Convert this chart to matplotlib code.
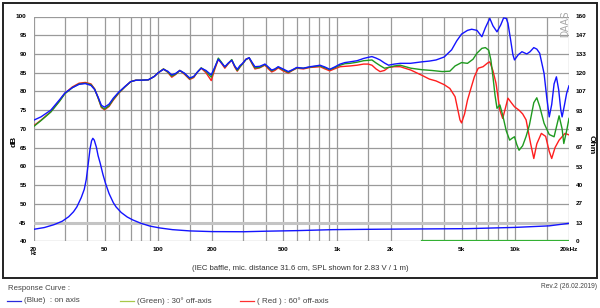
import numpy as np
import matplotlib
matplotlib.use("Agg")
import matplotlib.pyplot as plt
from matplotlib.lines import Line2D
from matplotlib.patches import Rectangle

plt.rcParams['font.family'] = ['Liberation Sans', 'DejaVu Sans']

# =========================
# data
# =========================
freq_lo = [20, 22, 25, 28, 30, 33, 36, 39, 42, 44, 46, 48, 50, 53, 56, 60, 65, 70, 75, 80, 88, 95,
           100, 107, 113, 119, 125, 132, 140, 150, 158, 166, 174, 185, 198, 207, 217, 226, 236, 247,
           258, 268, 277, 287, 297, 310, 323, 335, 348, 370, 396, 414, 432, 450, 470, 500, 535, 565,
           597, 650, 708, 760, 806, 860, 914, 980, 1044, 1110, 1187, 1300, 1413, 1500, 1574, 1660,
           1748, 1850, 1950, 2100, 2268]

blue_lo = [72.3, 73.2, 75.0, 77.8, 79.6, 81.0, 81.9, 82.1, 81.6, 80.5, 78.5, 76.3, 75.8, 76.6, 78.2,
           79.8, 81.3, 82.6, 83.0, 83.0, 83.1, 84.0, 85.0, 85.9, 85.4, 84.4, 84.8, 85.6, 84.9, 83.6,
           84.0, 85.2, 86.2, 85.6, 84.4, 86.4, 88.6, 87.6, 86.6, 87.6, 88.3, 86.8, 85.9, 86.9, 87.5,
           88.6, 89.0, 87.8, 86.6, 86.7, 87.3, 86.5, 85.7, 86.0, 86.6, 86.0, 85.3, 85.8, 86.4, 86.2,
           86.6, 86.8, 87.0, 86.5, 85.9, 86.6, 87.3, 87.7, 87.9, 88.2, 88.8, 89.1, 89.3, 88.9, 88.4,
           87.6, 87.0, 87.3, 87.5]

green_lo = [70.6, 72.2, 74.5, 77.4, 79.4, 81.0, 82.0, 82.2, 81.8, 80.6, 78.3, 75.9, 75.3, 76.2, 77.9,
            79.6, 81.2, 82.6, 83.0, 83.0, 83.1, 84.0, 85.0, 86.0, 85.2, 84.1, 84.6, 85.6, 84.8, 83.4,
            83.9, 85.2, 86.3, 85.4, 83.8, 86.2, 88.9, 87.8, 86.5, 87.5, 88.5, 86.8, 85.6, 86.6, 87.4,
            88.5, 89.0, 87.6, 86.3, 86.4, 87.2, 86.3, 85.5, 85.9, 86.5, 85.8, 85.1, 85.7, 86.3, 86.2,
            86.5, 86.7, 86.8, 86.3, 85.8, 86.4, 87.0, 87.4, 87.5, 87.8, 88.2, 88.3, 88.4, 87.6, 86.9,
            86.2, 86.4, 86.8, 87.0]

red_lo = [70.8, 72.3, 74.6, 77.5, 79.5, 81.2, 82.2, 82.4, 82.0, 80.7, 78.3, 75.7, 75.1, 76.0, 77.7,
          79.5, 81.2, 82.6, 83.0, 83.0, 83.1, 84.0, 85.0, 86.0, 85.1, 83.8, 84.5, 85.6, 84.6, 83.2,
          83.7, 85.2, 86.2, 85.0, 82.9, 85.8, 88.6, 87.5, 86.2, 87.4, 88.4, 86.5, 85.4, 86.5, 87.4,
          88.6, 88.9, 87.4, 86.0, 86.3, 87.0, 86.0, 85.2, 85.6, 86.3, 85.5, 84.9, 85.6, 86.2, 86.0,
          86.4, 86.5, 86.6, 86.0, 85.5, 86.1, 86.6, 86.7, 86.8, 87.0, 87.3, 87.3, 87.0, 86.0, 85.3,
          85.6, 86.4, 86.6, 86.6]

# high frequency part, each curve on its own points
blue_hf_f = [2585, 3000, 3300, 3600, 4000, 4400, 4700, 5000, 5400, 5700, 6100, 6500, 6800, 7200, 7500,
             7900, 8300, 8600, 8900, 9100, 9400, 9700, 9900, 10400, 10900, 11600, 12100, 12700, 13200,
             13700, 14500, 15000, 15500, 16000, 16500, 17000, 17500, 18000, 18300, 18800, 19400, 20000]
blue_hf = [87.5, 87.9, 88.1, 88.4, 89.2, 91.1, 93.5, 95.3, 96.3, 96.6, 96.3, 94.6, 97.0, 99.5, 97.5,
           95.9, 97.8, 99.6, 99.5, 98.2, 94.0, 89.8, 88.4, 89.8, 90.6, 90.0, 90.6, 91.7, 91.3,
           90.2, 84.8, 78.5, 73.2, 76.5, 82.0, 83.9, 80.5, 75.0, 73.2, 76.0, 79.5, 81.5]

green_hf_f = [2600, 3000, 3400, 3900, 4300, 4600, 5000, 5400, 5800, 6100, 6500, 6800, 7100, 7300, 7500,
              7700, 7900, 8200, 8500, 8900, 9300, 9600, 9900, 10200, 10500, 11000, 11500, 12000, 12700,
              13200, 13700, 14500, 15500, 16500, 17600, 18300, 18700, 19400, 20000]
green_hf = [86.2, 85.8, 85.6, 85.3, 85.4, 86.8, 87.7, 87.5, 88.6, 90.2, 91.5, 91.7, 91.0, 88.4, 83.9,
            79.0, 75.5, 76.4, 73.7, 69.5, 67.0, 67.5, 67.9, 65.8, 64.3, 65.5, 68.0, 71.0, 77.0,
            78.3, 76.0, 71.5, 68.5, 67.9, 73.5, 70.0, 66.1, 69.5, 72.8]

red_hf_f = [2600, 3000, 3300, 3600, 4000, 4300, 4600, 4900, 5000, 5200, 5400, 5700, 5900, 6200, 6600,
            7000, 7200, 7500, 7800, 8200, 8500, 8800, 9100, 9500, 9900, 10500, 11000, 11500, 12200,
            12700, 13200, 14000, 14800, 15500, 16000, 16700, 17600, 19000, 20000]
red_hf = [85.7, 84.3, 83.3, 82.8, 81.8, 80.8, 78.6, 72.4, 71.6, 74.0, 77.7, 81.5, 83.9, 86.2, 86.6,
          87.6, 87.9, 85.5, 82.2, 75.0, 72.8, 75.5, 78.2, 77.0, 75.9, 75.0, 74.0, 72.4, 66.0,
          62.1, 66.0, 68.8, 68.0, 64.0, 62.1, 65.0, 67.0, 68.8, 68.4]

# impedance, blue (Ohm)
imp_f = [20, 23, 26, 29, 31.5, 33.5, 35, 37, 38.5, 39.5, 40.5, 41.5, 42.3, 43, 43.8, 45, 46, 47.3, 49,
         50.6, 53, 56, 58, 62, 67, 72, 80, 90, 102, 120, 150, 200, 300, 405, 600, 950, 1750, 2270,
         5400, 10000, 15500, 20000]
imp_ohm = [8.5, 9.8, 11.8, 14.3, 17.5, 21, 24.5, 31, 37, 44, 55, 66, 71.5, 73.3, 72, 67, 61, 55.5, 47.5,
           41.4, 34, 27.5, 24.5, 20.5, 17.3, 15.2, 12.8, 10.8, 9.5, 8.3, 7.4, 6.9, 6.8, 7.2, 7.6, 8.3,
           8.6, 8.7, 9.0, 9.9, 11.0, 12.8]

# green impedance trace sitting on 0 Ohm at the top end
imp_green_f = [3000, 20000]
imp_green = [0, 0]

grid_f = [20, 30, 40, 50, 60, 70, 80, 90, 100, 150, 200, 300, 400, 500, 600, 700, 800, 900, 1000,
          1500, 2000, 3000, 4000, 5000, 6000, 7000, 8000, 9000, 10000, 15000, 20000]
xtick_f = [20, 50, 100, 200, 500, 1000, 2000, 5000, 10000, 20000]
xtick_lab = ['20', '50', '100', '200', '500', '1k', '2k', '5k', '10k', '20kHz']
db_ticks = [40, 45, 50, 55, 60, 65, 70, 75, 80, 85, 90, 95, 100]
ohm_ticks = [0, 13, 27, 40, 53, 67, 80, 93, 107, 120, 133, 147, 160]

BLUE = '#1414ff'
GREEN = '#1f9a1f'
RED = '#ff1e1e'
GRID = '#9a9a9a'

# =========================
# figure
# =========================
fig = plt.figure(figsize=(6.0, 3.08), dpi=100)
fig.patch.set_facecolor('white')

ax = fig.add_axes([33.5 / 600, 1 - 241.3 / 308, (569 - 33.5) / 600, (241.3 - 16.5) / 308])
ax.set_xscale('log')
ax.set_xlim(20, 20000)
ax.set_ylim(40, 100)

for f in grid_f:
    ax.axvline(f, color=GRID, lw=0.9, zorder=1)
for d in db_ticks:
    if d == 45:
        ax.axhline(d, color='#c4c4c4', lw=2.2, zorder=1)
    else:
        ax.axhline(d, color=GRID, lw=0.9, zorder=1)

ax2 = ax.twinx()
ax2.set_ylim(0, 160)
ax2.plot(imp_green_f, imp_green, color='#33b033', lw=1.6, zorder=3)
ax2.plot(imp_f, imp_ohm, color=BLUE, lw=1.0, zorder=5)

ax.plot(freq_lo + red_hf_f, red_lo + red_hf, color=RED, lw=1.0, zorder=3)
ax.plot(freq_lo + green_hf_f, green_lo + green_hf, color=GREEN, lw=1.0, zorder=4)
ax.plot(freq_lo + blue_hf_f, blue_lo + blue_hf, color=BLUE, lw=1.0, zorder=5)

for a in (ax, ax2):
    for s in a.spines.values():
        s.set_visible(False)
    a.tick_params(length=0)

ax.set_xticks(xtick_f)
ax.set_xticklabels(xtick_lab)
ax.xaxis.set_minor_locator(matplotlib.ticker.NullLocator())
ax.set_yticks(db_ticks)
ax.set_yticklabels([str(d) for d in db_ticks])
ax2.set_yticks(ohm_ticks)
ax2.set_yticklabels([str(o) for o in ohm_ticks])
ax.tick_params(axis='x', pad=4, labelsize=4.6)
ax.tick_params(axis='y', pad=5, labelsize=4.6)
ax2.tick_params(axis='y', pad=5, labelsize=4.6)
for lab in ax.get_xticklabels() + ax.get_yticklabels() + ax2.get_yticklabels():
    lab.set_fontweight('bold')
ax.text(20, 37.3, 'Hz', fontsize=3.6, fontweight='bold', ha='center', va='top')

fig.text(14 / 600, 1 - 141 / 308, 'dB', rotation=90, fontsize=6, fontweight='bold',
         ha='center', va='center')
fig.text(591 / 600, 1 - 145 / 308, 'Ohm', rotation=270, fontsize=6, fontweight='bold',
         ha='center', va='center')
fig.text(565 / 600, 1 - 24 / 308, 'DAAS', rotation=90, fontsize=7, color='#a8a8a8',
         ha='center', va='center')

# outer frame
fig.patches.append(Rectangle((3 / 600, 1 - 278 / 308), 594 / 600, 275 / 308,
                             transform=fig.transFigure, fill=False, ec='#222222', lw=1.4))

fig.text(300 / 600, 1 - 268 / 308, '(IEC baffle, mic. distance 31.6 cm, SPL shown for 2.83 V / 1 m)',
         fontsize=5.6, color='#333333', ha='center', va='center')
fig.text(8 / 600, 1 - 289 / 308, 'Response Curve :', fontsize=5.6, color='#444444', va='center')
fig.text(597 / 600, 1 - 287 / 308, 'Rev.2 (26.02.2019)', fontsize=4.8, color='#444444',
         ha='right', va='center')

legend_items = [(7, '#2a2adc', '(Blue)  : on axis'),
                (120, '#a8c84a', '(Green) : 30\u00b0 off-axis'),
                (240, '#ff3030', '( Red ) : 60\u00b0 off-axis')]
for x0, c, txt in legend_items:
    fig.lines.append(Line2D([x0 / 600, (x0 + 14) / 600], [1 - 301 / 308, 1 - 301 / 308],
                            transform=fig.transFigure, color=c, lw=0.9))
    fig.text((x0 + 17) / 600, 1 - 301 / 308, txt, fontsize=5.8, color='#444444', va='center')

fig.savefig('out.png', dpi=100)
